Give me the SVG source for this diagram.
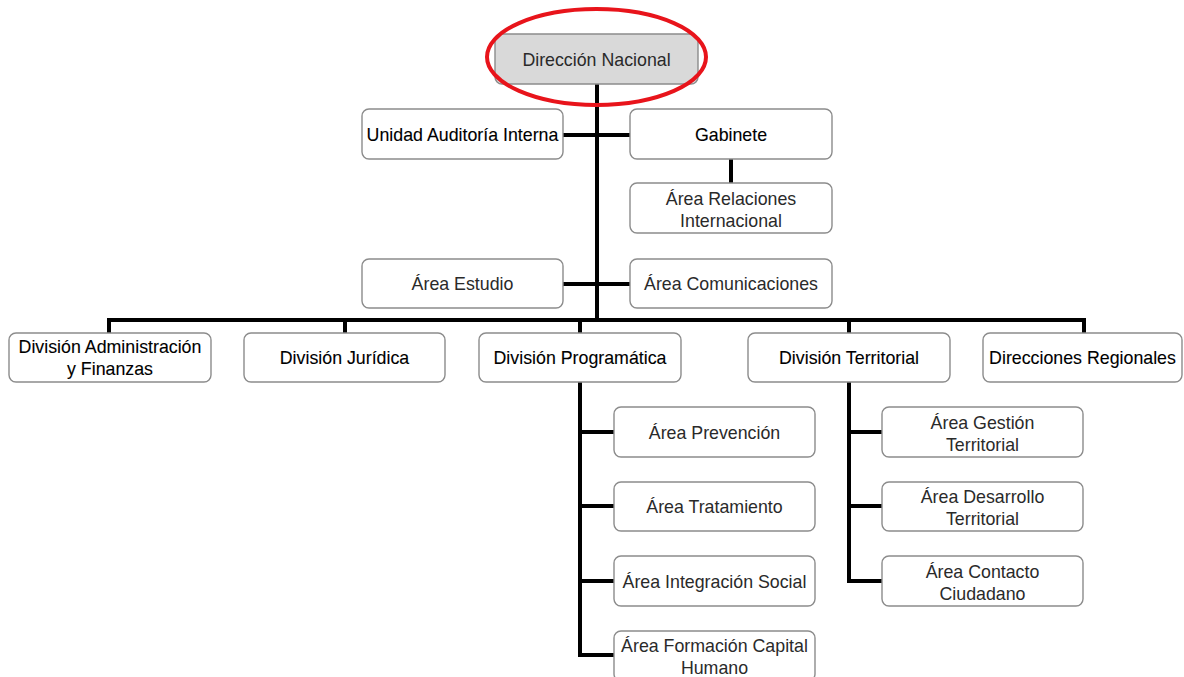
<svg xmlns="http://www.w3.org/2000/svg" width="1184" height="677" viewBox="0 0 1184 677">
<style>
.box{fill:#ffffff;stroke:#8c8c8c;stroke-width:1.4}
.root{fill:#d9d9d9;stroke:#8c8c8c;stroke-width:1.4}
.t{font-family:"Liberation Sans",Arial,sans-serif;font-size:17.8px;fill:#2a2a2a;text-anchor:middle}
.b{fill:#000000;stroke:#000000;stroke-width:0.1}
.c{stroke:#000000;stroke-width:4;fill:none}
</style>
<rect width="1184" height="677" fill="#ffffff"/>
<g id="connectors">
<path class="c" d="M597 84 V322"/>
<path class="c" d="M563 135 H630"/>
<path class="c" d="M731 159 V183"/>
<path class="c" d="M563 284 H630"/>
<path class="c" d="M109 333 V320 H1084 V333"/>
<path class="c" d="M345 320 V333"/>
<path class="c" d="M580 320 V333"/>
<path class="c" d="M849 320 V333"/>
<path class="c" d="M580 382 V655 H614"/>
<path class="c" d="M580 432 H614 M580 506 H614 M580 581 H614"/>
<path class="c" d="M849 382 V581 H882"/>
<path class="c" d="M849 432 H882 M849 506 H882"/>
</g>
<g id="n-direccion">
<rect class="root" x="495" y="34" width="203" height="50" rx="7"/>
<text class="t" x="596.5" y="66">Dirección Nacional</text>
</g>
<g id="n-auditoria">
<rect class="box" x="362" y="109" width="201" height="50" rx="7"/>
<text class="t b" x="462.5" y="141">Unidad Auditoría Interna</text>
</g>
<g id="n-gabinete">
<rect class="box" x="630" y="109" width="202" height="50" rx="7"/>
<text class="t b" x="731" y="141">Gabinete</text>
</g>
<g id="n-relaciones">
<rect class="box" x="630" y="183" width="202" height="50" rx="7"/>
<text class="t" x="731" y="205">Área Relaciones</text>
<text class="t" x="731" y="227">Internacional</text>
</g>
<g id="n-estudio">
<rect class="box" x="362" y="259" width="201" height="49" rx="7"/>
<text class="t" x="462.5" y="290">Área Estudio</text>
</g>
<g id="n-comunicaciones">
<rect class="box" x="630" y="259" width="202" height="49" rx="7"/>
<text class="t" x="731" y="290">Área Comunicaciones</text>
</g>
<g id="n-admin">
<rect class="box" x="9" y="333" width="202" height="49" rx="7"/>
<text class="t b" x="110" y="353">División Administración</text>
<text class="t b" x="110" y="375">y Finanzas</text>
</g>
<g id="n-juridica">
<rect class="box" x="244" y="333" width="201" height="49" rx="7"/>
<text class="t b" x="344.5" y="364">División Jurídica</text>
</g>
<g id="n-programatica">
<rect class="box" x="479" y="333" width="202" height="49" rx="7"/>
<text class="t b" x="580" y="364">División Programática</text>
</g>
<g id="n-territorial">
<rect class="box" x="748" y="333" width="202" height="49" rx="7"/>
<text class="t b" x="849" y="364">División Territorial</text>
</g>
<g id="n-regionales">
<rect class="box" x="983" y="333" width="199" height="49" rx="7"/>
<text class="t b" x="1082.5" y="364">Direcciones Regionales</text>
</g>
<g id="n-prevencion">
<rect class="box" x="614" y="407" width="201" height="50" rx="7"/>
<text class="t" x="714.5" y="439">Área Prevención</text>
</g>
<g id="n-tratamiento">
<rect class="box" x="614" y="482" width="201" height="49" rx="7"/>
<text class="t" x="714.5" y="513">Área Tratamiento</text>
</g>
<g id="n-integracion">
<rect class="box" x="614" y="556" width="201" height="50" rx="7"/>
<text class="t" x="714.5" y="588">Área Integración Social</text>
</g>
<g id="n-formacion">
<rect class="box" x="614" y="631" width="201" height="50" rx="7"/>
<text class="t" x="714.5" y="652">Área Formación Capital</text>
<text class="t" x="714.5" y="674">Humano</text>
</g>
<g id="n-gestion">
<rect class="box" x="882" y="407" width="201" height="50" rx="7"/>
<text class="t" x="982.5" y="429">Área Gestión</text>
<text class="t" x="982.5" y="451">Territorial</text>
</g>
<g id="n-desarrollo">
<rect class="box" x="882" y="482" width="201" height="49" rx="7"/>
<text class="t" x="982.5" y="503">Área Desarrollo</text>
<text class="t" x="982.5" y="525">Territorial</text>
</g>
<g id="n-contacto">
<rect class="box" x="882" y="556" width="201" height="50" rx="7"/>
<text class="t" x="982.5" y="578">Área Contacto</text>
<text class="t" x="982.5" y="600">Ciudadano</text>
</g>
<ellipse id="highlight" cx="596.5" cy="57" rx="109.5" ry="48" fill="none" stroke="#e8141b" stroke-width="4"/>
</svg>
